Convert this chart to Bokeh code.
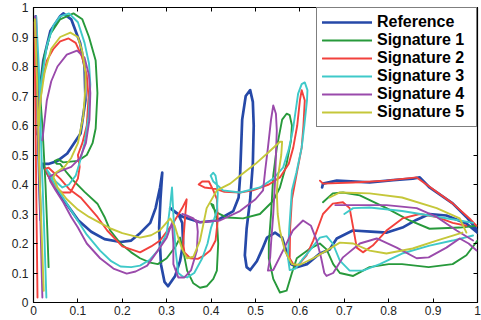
from bokeh.plotting import figure
from bokeh.models import Range1d, FixedTicker, LinearAxis, Legend, LegendItem, CustomLabelingPolicy
from bokeh.embed import file_html
from bokeh.resources import INLINE

N = float("nan")

series_names = ["Reference", "Signature 1", "Signature 2", "Signature 3", "Signature 4", "Signature 5"]
series_colors = ["#2649a8", "#27993b", "#f2413c", "#3fc9c9", "#9a4aab", "#c5c73a"]

tick_values = [0, 0.1, 0.2, 0.3, 0.4, 0.5, 0.6, 0.7, 0.8, 0.9, 1]
tick_labels = ["0", "0.1", "0.2", "0.3", "0.4", "0.5", "0.6", "0.7", "0.8", "0.9", "1"]

# Reference
ref_x = [0.005, 0.008, 0.010, 0.013, 0.016, N,
         0.009, 0.016, 0.022, 0.038, 0.060, 0.067, 0.085, 0.105, 0.115, 0.117, 0.106, 0.076, 0.054, 0.035, 0.020,
         0.030, 0.045, 0.067, 0.100, 0.130, 0.160, 0.196, 0.220, 0.240, 0.263, 0.275, 0.285, 0.290,
         0.286, 0.283, 0.287, 0.295, 0.303, 0.319, 0.330, 0.337, 0.335, 0.326, 0.308,
         0.320, 0.337, 0.375, 0.413, 0.450, 0.462, 0.465, 0.470, 0.478, 0.488, 0.494, 0.496, 0.494, 0.488,
         0.480, 0.476, 0.480, 0.488, 0.503, 0.515, 0.526, 0.544, 0.560, 0.571, 0.580, 0.593, 0.616, 0.645,
         0.667, 0.683, 0.719, 0.760, 0.796, 0.831, 0.862, 0.892, 0.930, 0.975, 1.000, N,
         0.650, 0.652, 0.683, 0.757, 0.810, 0.854, 0.870, 0.892, 0.944, 0.975, 0.989, 1.000]
ref_y = [0.970, 0.800, 0.600, 0.420, 0.280, N,
         0.570, 0.740, 0.820, 0.920, 0.970, 0.980, 0.960, 0.880, 0.800, 0.685, 0.573, 0.505, 0.480, 0.470, 0.470,
         0.440, 0.400, 0.350, 0.280, 0.240, 0.215, 0.205, 0.210, 0.235, 0.270, 0.320, 0.390, 0.440,
         0.350, 0.254, 0.130, 0.070, 0.055, 0.090, 0.140, 0.200, 0.270, 0.300, 0.320,
         0.305, 0.290, 0.272, 0.278, 0.310, 0.356, 0.420, 0.620, 0.700, 0.720, 0.680, 0.600, 0.470, 0.350,
         0.250, 0.160, 0.120, 0.110, 0.140, 0.180, 0.220, 0.237, 0.220, 0.166, 0.130, 0.120, 0.130, 0.166,
         0.180, 0.217, 0.244, 0.240, 0.237, 0.254, 0.280, 0.300, 0.295, 0.268, 0.237, N,
         0.390, 0.403, 0.413, 0.407, 0.415, 0.420, 0.424, 0.390, 0.336, 0.290, 0.265, 0.244]

# Signature 1
s1_x = [0.003, 0.010, 0.020, 0.027, 0.031, 0.034, N,
        0.012, 0.016, 0.025, 0.038, 0.060, 0.090, 0.110, 0.125, 0.140, 0.144, 0.140, 0.133, 0.120, 0.100,
        0.067, 0.055, 0.048, 0.052, 0.060, 0.075, 0.090, 0.115, 0.144, 0.160, 0.173, 0.196, 0.220, 0.240,
        0.263, 0.280, 0.300, 0.320, 0.330, 0.338, 0.346, 0.360, 0.375, 0.390, 0.405, 0.413, 0.416, 0.413,
        0.405, 0.400, 0.405, 0.413, 0.436, 0.472, 0.510, 0.540, 0.555, 0.570, 0.580, 0.582, 0.577, 0.570,
        0.560, 0.548, 0.540, 0.535, 0.530, 0.530, 0.540, 0.555, 0.570, 0.582, 0.593, 0.620, 0.645, 0.660,
        0.675, 0.690, 0.720, 0.757, 0.800, 0.830, 0.890, 0.944, 0.975, 1.000, N,
        0.652, 0.674, 0.697, 0.735, 0.795, 0.847, 0.892, 0.960, 0.998]
s1_y = [0.950, 0.800, 0.600, 0.400, 0.250, 0.120, N,
        0.600, 0.740, 0.840, 0.910, 0.960, 0.980, 0.960, 0.900, 0.820, 0.710, 0.590, 0.540, 0.500, 0.480,
        0.475, 0.485, 0.480, 0.470, 0.470, 0.440, 0.413, 0.375, 0.335, 0.290, 0.244, 0.200, 0.170, 0.150,
        0.135, 0.130, 0.150, 0.190, 0.220, 0.170, 0.108, 0.065, 0.050, 0.055, 0.080, 0.108, 0.200, 0.280,
        0.330, 0.335, 0.320, 0.305, 0.288, 0.285, 0.300, 0.345, 0.390, 0.470, 0.550, 0.600, 0.635, 0.640,
        0.620, 0.525, 0.430, 0.300, 0.200, 0.150, 0.080, 0.034, 0.040, 0.100, 0.150, 0.180, 0.200, 0.180,
        0.130, 0.100, 0.090, 0.120, 0.130, 0.130, 0.120, 0.130, 0.160, 0.210, N,
        0.340, 0.370, 0.373, 0.363, 0.320, 0.278, 0.250, 0.254, 0.260]

# Signature 2
s2_x = [0.002, 0.004, 0.006, 0.008, 0.009, N,
        0.010, 0.020, 0.030, 0.045, 0.060, 0.079, 0.095, 0.110, 0.120, 0.124, 0.120, 0.110, 0.100, 0.104,
        0.100, 0.083, 0.065, 0.050, 0.038, 0.027, 0.034, 0.060, 0.080, 0.106, 0.144, 0.166, 0.200, 0.240,
        0.265, 0.285, 0.315, 0.335, 0.345, 0.342, 0.337, 0.340, 0.353, 0.370, 0.385, 0.398, 0.410, 0.415,
        0.413, 0.405, 0.395, 0.380, 0.372, 0.385, 0.410, 0.430, 0.465, 0.494, 0.530, 0.555, 0.575, 0.585,
        0.594, 0.600, 0.604, 0.611, 0.608, 0.604, 0.592, 0.582, 0.578, 0.577, 0.585, 0.595, 0.615, 0.630,
        0.652, 0.674, 0.697, 0.712, 0.720, 0.728, 0.742, 0.764, 0.795, 0.831, 0.870, 0.908, 0.944, 0.975, N,
        0.645, 0.652, 0.720, 0.795, 0.863, 0.885, 0.944, 0.982, 0.998]
s2_y = [0.950, 0.700, 0.400, 0.150, 0.017, N,
        0.600, 0.750, 0.820, 0.860, 0.885, 0.895, 0.880, 0.830, 0.770, 0.695, 0.600, 0.540, 0.500, 0.460,
        0.420, 0.373, 0.373, 0.390, 0.413, 0.454, 0.457, 0.420, 0.385, 0.356, 0.290, 0.244, 0.190, 0.170,
        0.190, 0.210, 0.270, 0.320, 0.350, 0.300, 0.200, 0.170, 0.150, 0.148, 0.160, 0.176, 0.210, 0.280,
        0.350, 0.380, 0.410, 0.410, 0.400, 0.390, 0.385, 0.375, 0.373, 0.380, 0.400, 0.424, 0.470, 0.525,
        0.600, 0.685, 0.720, 0.685, 0.600, 0.525, 0.430, 0.350, 0.250, 0.150, 0.130, 0.125, 0.160, 0.210,
        0.300, 0.335, 0.340, 0.320, 0.254, 0.186, 0.170, 0.193, 0.244, 0.285, 0.300, 0.290, 0.270, 0.260, N,
        0.413, 0.403, 0.407, 0.413, 0.424, 0.400, 0.336, 0.285, 0.260]

# Signature 3
s3_x = [0.006, 0.012, 0.018, 0.024, 0.029, N,
        0.012, 0.018, 0.030, 0.045, 0.060, 0.080, 0.100, 0.115, 0.125, 0.128, 0.124, 0.115, 0.105, 0.095,
        0.080, 0.065, 0.050, 0.035, 0.030, 0.040, 0.060, 0.090, 0.120, 0.150, 0.175, 0.196, 0.220, 0.240,
        0.262, 0.280, 0.300, 0.308, 0.312, 0.315, 0.320, 0.326, 0.336, 0.346, 0.362, 0.380, 0.392, 0.400,
        0.413, 0.415, 0.413, 0.410, 0.405, 0.399, 0.405, 0.427, 0.465, 0.510, 0.540, 0.562, 0.575, 0.584,
        0.596, 0.604, 0.611, 0.617, 0.616, 0.610, 0.604, 0.592, 0.582, 0.576, 0.573, 0.577, 0.590, 0.605,
        0.622, 0.645, 0.660, 0.674, 0.690, 0.712, 0.742, 0.780, 0.830, 0.892, 0.944, 0.990, N,
        0.700, 0.720, 0.757, 0.830, 0.892, 0.960, 0.990]
s3_y = [0.970, 0.800, 0.500, 0.250, 0.017, N,
        0.620, 0.750, 0.870, 0.940, 0.970, 0.980, 0.950, 0.880, 0.810, 0.740, 0.630, 0.540, 0.480, 0.430,
        0.400, 0.390, 0.410, 0.440, 0.450, 0.420, 0.370, 0.300, 0.230, 0.176, 0.140, 0.122, 0.120, 0.125,
        0.145, 0.176, 0.234, 0.330, 0.390, 0.300, 0.176, 0.100, 0.088, 0.085, 0.100, 0.150, 0.200, 0.254,
        0.310, 0.370, 0.403, 0.430, 0.440, 0.430, 0.410, 0.380, 0.373, 0.390, 0.420, 0.457, 0.520, 0.583,
        0.708, 0.740, 0.746, 0.720, 0.685, 0.600, 0.525, 0.440, 0.380, 0.250, 0.153, 0.110, 0.115, 0.145,
        0.176, 0.220, 0.225, 0.200, 0.142, 0.108, 0.108, 0.130, 0.166, 0.193, 0.210, 0.227, N,
        0.300, 0.320, 0.322, 0.310, 0.295, 0.278, 0.270]

# Signature 4
s4_x = [0.004, 0.008, 0.012, 0.016, 0.020, N,
        0.020, 0.030, 0.040, 0.054, 0.075, 0.098, 0.115, 0.125, 0.128, 0.126, 0.118, 0.105, 0.085, 0.060,
        0.040, 0.035, 0.038, 0.050, 0.067, 0.085, 0.100, 0.120, 0.150, 0.180, 0.210, 0.230, 0.256, 0.280,
        0.300, 0.312, 0.315, 0.315, 0.326, 0.340, 0.355, 0.368, 0.370, 0.368, 0.360, 0.345, 0.335, 0.350,
        0.375, 0.420, 0.465, 0.500, 0.517, 0.522, 0.528, 0.535, 0.540, 0.546, 0.548, 0.546, 0.544, 0.540,
        0.535, 0.533, 0.528, 0.540, 0.562, 0.584, 0.607, 0.625, 0.638, 0.648, 0.655, 0.660, 0.675, 0.697,
        0.735, 0.773, 0.818, 0.863, 0.890, 0.930, 0.960, 0.980, 0.998, N,
        0.680, 0.720, 0.795, 0.863, 0.908, 0.953, 0.990]
s4_y = [0.970, 0.750, 0.500, 0.250, 0.017, N,
        0.550, 0.685, 0.750, 0.800, 0.840, 0.854, 0.830, 0.770, 0.710, 0.620, 0.540, 0.490, 0.460, 0.445,
        0.430, 0.425, 0.410, 0.380, 0.340, 0.290, 0.254, 0.200, 0.150, 0.115, 0.098, 0.105, 0.125, 0.176,
        0.220, 0.270, 0.200, 0.130, 0.085, 0.085, 0.110, 0.176, 0.240, 0.270, 0.285, 0.295, 0.300, 0.290,
        0.272, 0.278, 0.310, 0.350, 0.380, 0.450, 0.525, 0.620, 0.668, 0.640, 0.583, 0.500, 0.410, 0.300,
        0.200, 0.153, 0.108, 0.110, 0.176, 0.244, 0.278, 0.260, 0.210, 0.150, 0.100, 0.090, 0.100, 0.153,
        0.200, 0.217, 0.186, 0.150, 0.153, 0.186, 0.217, 0.200, 0.176, N,
        0.330, 0.330, 0.330, 0.320, 0.290, 0.244, 0.210]

# Signature 5
s5_x = [0.003, 0.008, 0.012, 0.018, 0.023, N,
        0.012, 0.015, 0.025, 0.040, 0.060, 0.083, 0.100, 0.110, 0.117, 0.117, 0.112, 0.100, 0.085, 0.070,
        0.050, 0.045, 0.054, 0.075, 0.100, 0.125, 0.150, 0.175, 0.200, 0.240, 0.265, 0.285, 0.308, 0.318,
        0.326, 0.335, 0.346, 0.360, 0.375, 0.390, 0.413, 0.443, 0.465, 0.500, 0.530, 0.555, 0.560, 0.558,
        0.555, 0.550, 0.548, 0.550, 0.555, 0.566, 0.582, 0.600, 0.630, 0.660, 0.690, 0.720, 0.757, 0.795,
        0.854, 0.908, 0.966, N,
        0.667, 0.690, 0.757, 0.830, 0.908, 0.960, 0.975]
s5_y = [0.960, 0.750, 0.500, 0.250, 0.040, N,
        0.600, 0.680, 0.780, 0.860, 0.900, 0.915, 0.900, 0.850, 0.780, 0.730, 0.630, 0.540, 0.490, 0.460,
        0.440, 0.425, 0.390, 0.350, 0.315, 0.290, 0.270, 0.250, 0.235, 0.220, 0.228, 0.245, 0.285, 0.260,
        0.220, 0.180, 0.150, 0.155, 0.210, 0.320, 0.380, 0.403, 0.430, 0.470, 0.510, 0.545, 0.545, 0.500,
        0.470, 0.420, 0.370, 0.300, 0.244, 0.176, 0.130, 0.128, 0.150, 0.176, 0.203, 0.200, 0.176, 0.166,
        0.183, 0.210, 0.237, N,
        0.356, 0.373, 0.370, 0.356, 0.320, 0.285, 0.237]

series_x = [ref_x, s1_x, s2_x, s3_x, s4_x, s5_x]
series_y = [ref_y, s1_y, s2_y, s3_y, s4_y, s5_y]

FONT = "Liberation Sans"

p = figure(width=481, height=320, output_backend="svg", toolbar_location=None,
           x_range=Range1d(0, 1), y_range=Range1d(0, 1),
           min_border_left=33, min_border_right=3, min_border_top=7, min_border_bottom=18)
p.background_fill_color = "white"
p.border_fill_color = "white"
p.outline_line_color = "black"
p.outline_line_width = 1.2
p.xgrid.visible = False
p.ygrid.visible = False

overrides = {v: l for v, l in zip(tick_values, tick_labels)}
for ax in (p.xaxis[0], p.yaxis[0]):
    ax.ticker = FixedTicker(ticks=tick_values)
    ax.major_label_overrides = overrides
    ax.major_tick_in = 4
    ax.major_tick_out = 0
    ax.minor_tick_line_color = None
    ax.axis_line_color = None
    ax.major_tick_line_color = "black"
    ax.major_label_text_font = FONT
    ax.major_label_text_font_size = "12px"
    ax.major_label_text_color = "#222222"
p.xaxis[0].major_label_standoff = 3
p.yaxis[0].major_label_standoff = 5

no_labels = CustomLabelingPolicy(code="return new Set()")
for loc in ("above", "right"):
    ax = LinearAxis(ticker=FixedTicker(ticks=tick_values), major_tick_in=4, major_tick_out=0,
                    minor_tick_line_color=None, axis_line_color=None,
                    major_label_policy=no_labels,
                    major_label_text_font_size="1px", major_label_standoff=0,
                    major_tick_line_color="black")
    p.add_layout(ax, loc)

items = []
for i, (name, col) in enumerate(zip(series_names, series_colors)):
    r = p.line(series_x[i], series_y[i], line_color=col,
               line_width=2.7 if i == 0 else 1.9, line_join="round", line_cap="round")
    items.append(LegendItem(label=name, renderers=[r]))

legend = Legend(items=items, location="top_right", margin=0, padding=5, spacing=0,
                label_height=18, glyph_height=18, glyph_width=50, label_standoff=5, label_width=94,
                label_text_font=FONT, label_text_font_size="16px", label_text_font_style="bold",
                label_text_color="black", border_line_color="black", border_line_width=1.2,
                background_fill_color="white", background_fill_alpha=1.0)
p.add_layout(legend)

open("out.html", "w").write(file_html(p, INLINE))
